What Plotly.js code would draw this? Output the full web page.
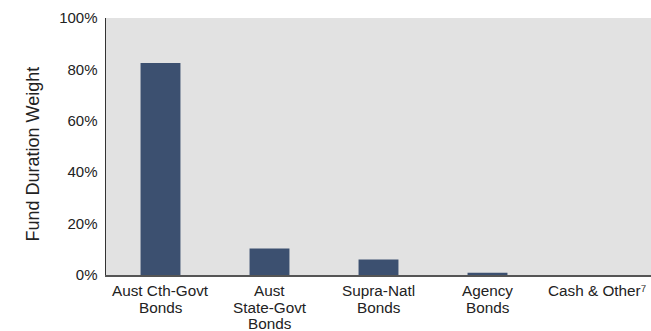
<!DOCTYPE html>
<html>
<head>
<meta charset="utf-8">
<script src="https://cdn.plot.ly/plotly-3.0.1.min.js"></script>
<style>html,body{margin:0;padding:0;background:#fff;}#chart{width:651px;height:331px;}</style>
</head>
<body>
<div id="chart"></div>
<script>
const categories = ["Aust Cth-Govt", "Aust State-Govt", "Supra-Natl", "Agency", "Cash & Other"];
const tickLabelLines = [["Aust Cth-Govt", "Bonds"], ["Aust", "State-Govt", "Bonds"], ["Supra-Natl", "Bonds"], ["Agency", "Bonds"], ["Cash & Other⁷"]];
const weights = [0.825, 0.103, 0.060, 0.009, 0.0];
const yTickVals = [0, 0.2, 0.4, 0.6, 0.8, 1.0];
const yTickText = ["0%", "20%", "40%", "60%", "80%", "100%"];
const yAxisTitle = "Fund Duration Weight";

const trace = {
  type: "bar",
  x: categories,
  y: weights,
  marker: {color: "#3c5070"},
  hoverinfo: "none"
};

const annotations = [];
categories.forEach((cat, i) => {
  tickLabelLines[i].forEach((line, k) => {
    annotations.push({
      x: cat, xref: "x",
      y: 0, yref: "paper",
      yanchor: "top", xanchor: "center",
      yshift: -(6 + 16.6 * k),
      text: line,
      showarrow: false,
      borderpad: 0,
      font: {size: 15.3, color: "#222222"}
    });
  });
});
annotations.push({
  x: 0, xref: "paper", xanchor: "center", xshift: -73,
  y: 0.469, yref: "paper", yanchor: "middle",
  text: yAxisTitle, textangle: -90, showarrow: false,
  font: {size: 18, color: "#222222"}
});

const layout = {
  width: 651, height: 331,
  margin: {l: 106, r: 0, t: 18, b: 56, pad: 0},
  paper_bgcolor: "#ffffff",
  plot_bgcolor: "#e2e2e2",
  bargap: 0.634,
  showlegend: false,
  font: {family: "Liberation Sans, Arial, sans-serif", size: 15, color: "#222222"},
  annotations: annotations,
  xaxis: {
    type: "category",
    showgrid: false,
    zeroline: false,
    showline: true,
    linecolor: "#555555",
    linewidth: 1.5,
    ticks: "",
    showticklabels: false,
    fixedrange: true
  },
  yaxis: {
    range: [0, 1],
    tickvals: yTickVals,
    ticktext: yTickText,
    showgrid: false,
    zeroline: false,
    showline: true,
    linecolor: "#333333",
    linewidth: 1.5,
    ticks: "",
    ticklabelstandoff: 4,
    tickfont: {size: 15, color: "#222222"},
    fixedrange: true
  }
};

Plotly.newPlot("chart", [trace], layout, {staticPlot: true, displayModeBar: false});
</script>
</body>
</html>
